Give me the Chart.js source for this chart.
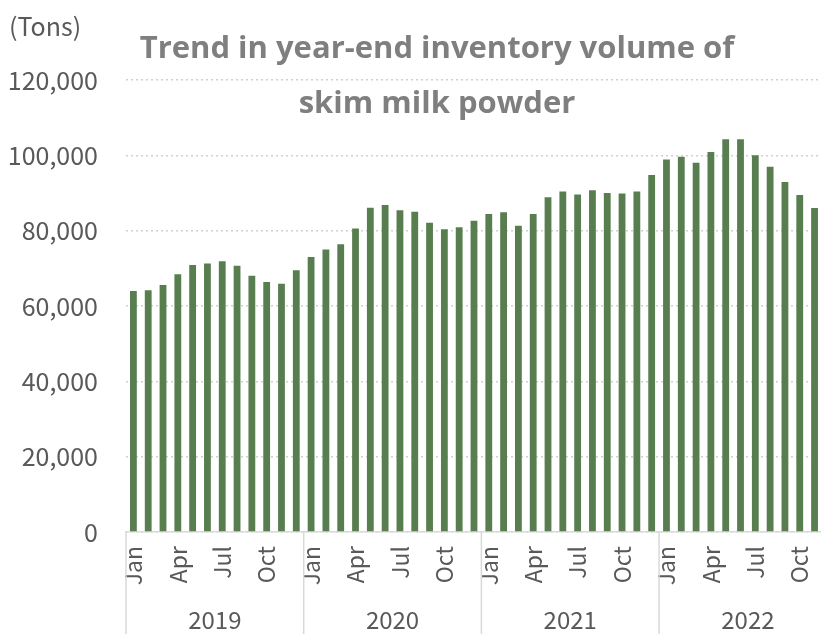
<!DOCTYPE html>
<html lang="en">
<head>
    <meta charset="UTF-8">
    <title>Skim milk powder inventory</title>
    <script src="https://cdn.jsdelivr.net/npm/chart.js"></script>
    <style>
        body { margin: 0; background: #fff; overflow: hidden; }
        #wrap { position: relative; width: 863px; height: 634px; }
        #unit { position: absolute; left: 9px; top: 7px; font: 25px "Noto Sans CJK JP", "Noto Sans", sans-serif; color: #595959; }
        #title { position: absolute; left: 86px; width: 702px; top: 19px; text-align: center;
                 font: bold 31px "Open Sans", "Liberation Sans", sans-serif; line-height: 55px; color: #7f7f7f; }
    </style>
</head>
<body>
<div id="wrap">
    <canvas id="stockChart" width="863" height="634"></canvas>
    <div id="unit">(Tons)</div>
    <div id="title">Trend in year-end inventory volume of<br>skim milk powder</div>
</div>

<script>
    const years = ['2019', '2020', '2021', '2022'];
    const months = ['Jan', 'Feb', 'Mar', 'Apr', 'May', 'Jun', 'Jul', 'Aug', 'Sep', 'Oct', 'Nov', 'Dec'];
    // month-end stock in tons, Jan 2019 .. Dec 2022 (Dec 2022 is cut off in the source)
    const inventory = [
        64000, 64200, 65600, 68400, 70900, 71300, 71900, 70700, 68000, 66400, 65900, 69500,
        73000, 75000, 76400, 80600, 86100, 86800, 85400, 85000, 82100, 80400, 80900, 82600,
        84400, 84900, 81300, 84400, 88900, 90400, 89600, 90700, 90000, 89900, 90400, 94800,
        98900, 99600, 98000, 100900, 104300, 104300, 100000, 97000, 92900, 89500, 86000, null
    ];
    const yTicks = [0, 20000, 40000, 60000, 80000, 100000, 120000];

    const labels = [];
    years.forEach(y => months.forEach(m => labels.push(m)));

    const gray = '#595959';
    const fontFam = '"Noto Sans CJK JP", "Noto Sans", sans-serif';

    // year row under the month labels, with separators
    const yearRow = {
        id: 'yearRow',
        afterDraw(chart) {
            const ctx = chart.ctx;
            const xs = chart.scales.x;
            const half = (xs.getPixelForValue(1) - xs.getPixelForValue(0)) / 2;
            const top = chart.chartArea.bottom;
            const bottom = chart.height;
            ctx.save();
            ctx.strokeStyle = '#d9d9d9';
            ctx.lineWidth = 1.5;
            ctx.fillStyle = gray;
            ctx.font = '24px ' + fontFam;
            ctx.textAlign = 'center';
            ctx.textBaseline = 'middle';
            years.forEach((y, i) => {
                const left = xs.getPixelForValue(i * 12) - half;
                const right = xs.getPixelForValue(i * 12 + 11) + half;
                ctx.beginPath();
                ctx.moveTo(left, top);
                ctx.lineTo(left, bottom);
                ctx.stroke();
                if (i === years.length - 1) {
                    ctx.beginPath();
                    ctx.moveTo(right, top);
                    ctx.lineTo(right, bottom);
                    ctx.stroke();
                }
                ctx.fillText(y, (left + right) / 2, top + 88);
            });
            ctx.restore();
        }
    };

    new Chart(document.getElementById('stockChart'), {
        type: 'bar',
        data: {
            labels: labels,
            datasets: [{
                data: inventory,
                backgroundColor: '#587e50',
                categoryPercentage: 1,
                barPercentage: 0.46
            }]
        },
        options: {
            responsive: false,
            animation: false,
            layout: { padding: { top: 80, right: 4, left: 0, bottom: 0 } },
            plugins: { legend: { display: false }, tooltip: { enabled: false } },
            scales: {
                x: {
                    grid: { display: false },
                    border: { color: '#d9d9d9', width: 1.5 },
                    ticks: {
                        autoSkip: false,
                        maxRotation: 90,
                        minRotation: 90,
                        padding: 6,
                        color: gray,
                        font: { family: fontFam, size: 23 },
                        callback: (v, i) => (i % 3 === 0 ? months[i % 12] : '')
                    },
                    afterFit(scale) { scale.height = 102; }
                },
                y: {
                    min: 0,
                    max: 120000,
                    afterBuildTicks(scale) { scale.ticks = yTicks.map(v => ({ value: v })); },
                    grid: { color: '#d0d0d0', lineWidth: 1.5, drawTicks: false },
                    border: { display: false, dash: [2, 3] },
                    ticks: {
                        padding: 28,
                        color: gray,
                        font: { family: fontFam, size: 25 },
                        callback: v => v.toLocaleString('en-US')
                    },
                    afterFit(scale) { scale.width = 126; }
                }
            }
        },
        plugins: [yearRow]
    });
</script>
</body>
</html>
